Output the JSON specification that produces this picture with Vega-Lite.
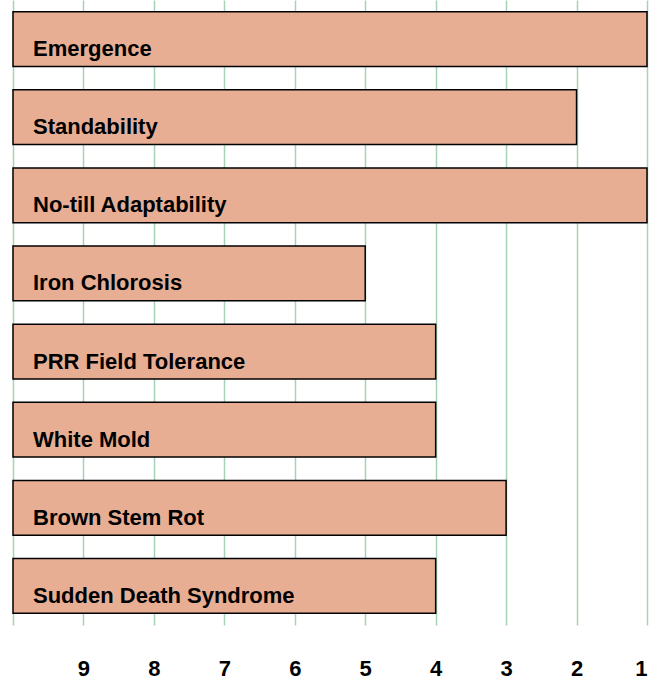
{
  "$schema": "https://vega.github.io/schema/vega-lite/v6.json",
  "width": 634,
  "height": 625,
  "autosize": "none",
  "padding": {"left": 13, "top": 0, "right": 10, "bottom": 58},
  "background": "white",
  "config": {"view": {"stroke": null}},
  "data": {
    "values": [
      {"trait": "Emergence", "score": 1},
      {"trait": "Standability", "score": 2},
      {"trait": "No-till Adaptability", "score": 1},
      {"trait": "Iron Chlorosis", "score": 5},
      {"trait": "PRR Field Tolerance", "score": 4},
      {"trait": "White Mold", "score": 4},
      {"trait": "Brown Stem Rot", "score": 3},
      {"trait": "Sudden Death Syndrome", "score": 4}
    ]
  },
  "encoding": {
    "y": {
      "field": "trait",
      "type": "nominal",
      "sort": null,
      "axis": null,
      "scale": {"paddingInner": 0.3, "paddingOuter": 0.15}
    }
  },
  "layer": [
    {
      "mark": {"type": "bar", "fill": "#E8AE94", "stroke": "#000000", "strokeWidth": 1.5},
      "encoding": {
        "x": {
          "field": "score",
          "type": "quantitative",
          "scale": {"domain": [10, 1], "nice": false, "zero": false},
          "axis": {
            "values": [10, 9, 8, 7, 6, 5, 4, 3, 2, 1],
            "format": "d",
            "labelExpr": "datum.value == 10 ? '' : datum.label",
            "title": null,
            "domain": false,
            "ticks": false,
            "grid": true,
            "gridColor": "#A6D3B8",
            "gridWidth": 1.5,
            "gridOpacity": 1,
            "labelFont": "Liberation Sans",
            "labelFontWeight": "bold",
            "labelFontSize": 22,
            "labelColor": "#000000",
            "labelPadding": 33
          }
        },
        "x2": {"datum": 10}
      }
    },
    {
      "mark": {
        "type": "text",
        "align": "left",
        "baseline": "alphabetic",
        "dx": 20,
        "dy": 17,
        "font": "Liberation Sans",
        "fontWeight": "bold",
        "fontSize": 22,
        "color": "#000000"
      },
      "encoding": {
        "x": {"datum": 10, "type": "quantitative"},
        "text": {"field": "trait"}
      }
    }
  ]
}
